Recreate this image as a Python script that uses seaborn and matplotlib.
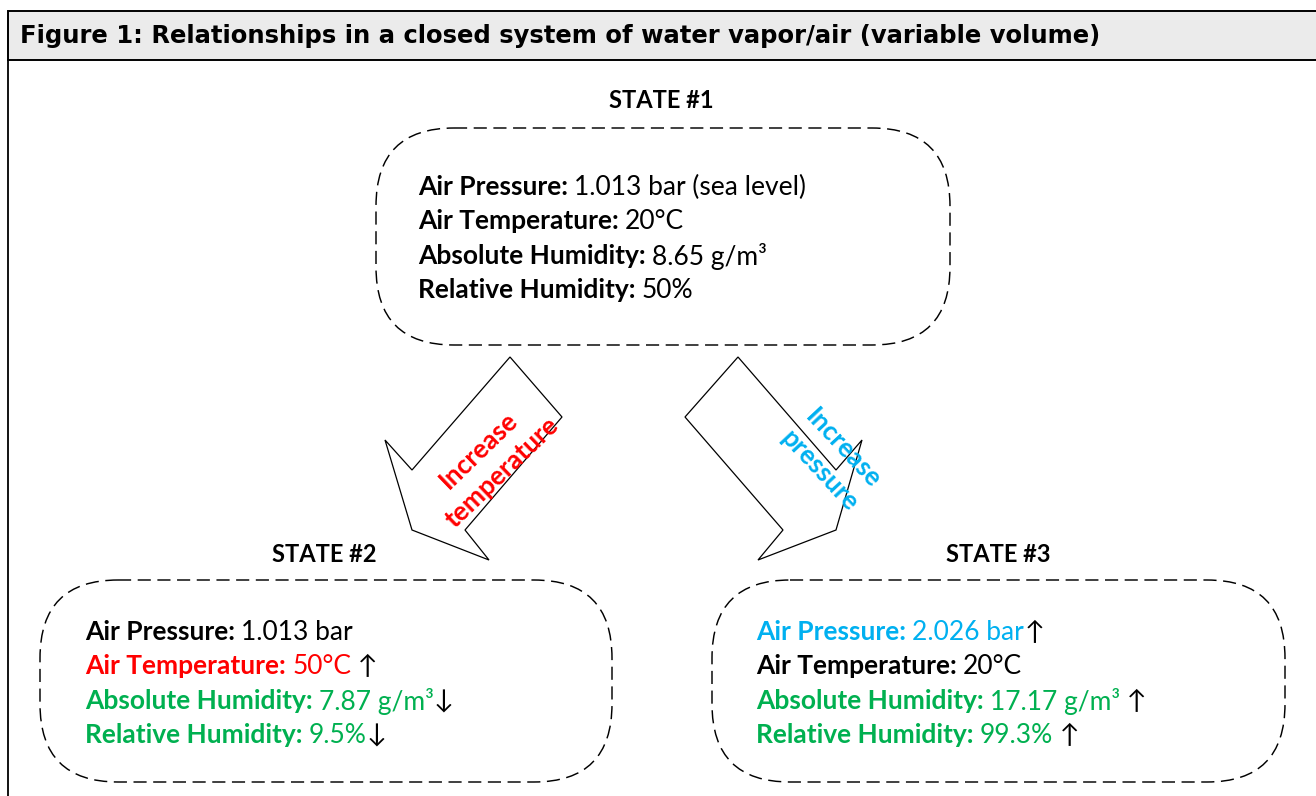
import matplotlib
matplotlib.use("Agg")
import matplotlib.pyplot as plt
import seaborn as sns
from matplotlib.patches import FancyBboxPatch, Polygon, Rectangle

# ---- data ----
title = "Figure 1: Relationships in a closed system of water vapor/air (variable volume)"
state_names = ["STATE #1", "STATE #2", "STATE #3"]
row_labels = ["Air Pressure:", "Air Temperature:", "Absolute Humidity:", "Relative Humidity:"]
state1_values = ["1.013 bar (sea level)", "20°C", "8.65 g/m³", "50%"]
state2_values = ["1.013 bar", "50°C", "7.87 g/m³", "9.5%"]
state3_values = ["2.026 bar", "20°C", "17.17 g/m³", "99.3%"]
state1_marks = ["", "", "", ""]
state2_marks = ["", " ↑", "↓", "↓"]
state3_marks = ["↑", "", " ↑", " ↑"]
state1_colors = ["black", "black", "black", "black"]
state2_colors = ["black", "#FF0000", "#00B050", "#00B050"]
state3_colors = ["#00B0F0", "black", "#00B050", "#00B050"]
arrow_labels = [["Increase", "temperature"], ["Increase", "pressure"]]
arrow_colors = ["#FF0000", "#00B0F0"]

# ---- layout (pixels) ----
W, H = 1316, 796
boxes = [(376, 128, 574, 217), (40, 580, 572, 202), (712, 580, 573, 202)]
title_pos = [(661, 101), (324, 554), (998, 554)]
text_x = [418, 85, 756]
text_y0 = [185, 630, 630]
line_gap = 34.3
arrow_shapes = [
    [(510, 357), (562, 417), (465, 530), (489, 560), (412, 530), (385, 440), (412, 470)],
    [(738, 357), (836, 470), (862, 440), (836, 530), (758, 560), (783, 530), (685, 417)],
]
arrow_text_pos = [[(477, 449), (501, 471)], [(845, 447), (821, 469)]]
arrow_text_rot = [44, -47]

sns.set_theme(style="white")
plt.rcParams["font.family"] = ["Lato", "DejaVu Sans"]

fig = plt.figure(figsize=(W / 100, H / 100), dpi=100)
ax = fig.add_axes([0, 0, 1, 1])
ax.set_xlim(0, W)
ax.set_ylim(H, 0)
ax.axis("off")

# frame and header
ax.add_patch(Rectangle((8, 11), W, 49, facecolor="#EBEBEB", edgecolor="black", lw=1.4))
ax.plot([8, 8], [60, H + 5], color="black", lw=1.3)
ax.text(20, 36, title, fontsize=17.5, fontweight="bold", family="DejaVu Sans",
        color="black", va="center", ha="left")

fig.canvas.draw()
renderer = fig.canvas.get_renderer()
inv = ax.transData.inverted()


def put(x, y, s, color, weight):
    t = ax.text(x, y, s, color=color, fontweight=weight, fontsize=19,
                va="center_baseline", ha="left")
    bb = t.get_window_extent(renderer)
    x0 = inv.transform((bb.x0, bb.y0))[0]
    x1 = inv.transform((bb.x1, bb.y0))[0]
    return x + (x1 - x0)


values = [state1_values, state2_values, state3_values]
marks = [state1_marks, state2_marks, state3_marks]
colors = [state1_colors, state2_colors, state3_colors]

for i in range(3):
    bx, by, bw, bh = boxes[i]
    ax.add_patch(FancyBboxPatch((bx, by), bw, bh,
                                boxstyle="round,pad=0,rounding_size=78",
                                facecolor="none", edgecolor="black", lw=1.05,
                                linestyle=(0, (9, 4.5))))
    ax.text(*title_pos[i], state_names[i], fontsize=17, fontweight="bold",
            color="black", ha="center", va="center")
    for j in range(4):
        y = text_y0[i] + j * line_gap
        x = put(text_x[i], y, row_labels[j] + " ", colors[i][j], "bold")
        x = put(x, y, values[i][j], colors[i][j], "normal")
        if marks[i][j]:
            put(x, y, marks[i][j], "black", "normal")

for k in range(2):
    ax.add_patch(Polygon(arrow_shapes[k], closed=True, facecolor="white",
                         edgecolor="black", lw=0.9))
    for line, pos in zip(arrow_labels[k], arrow_text_pos[k]):
        ax.text(*pos, line, color=arrow_colors[k], fontsize=19, fontweight="bold",
                rotation=arrow_text_rot[k], ha="center", va="center_baseline",
                rotation_mode="anchor")

fig.savefig("out.png", dpi=100)
